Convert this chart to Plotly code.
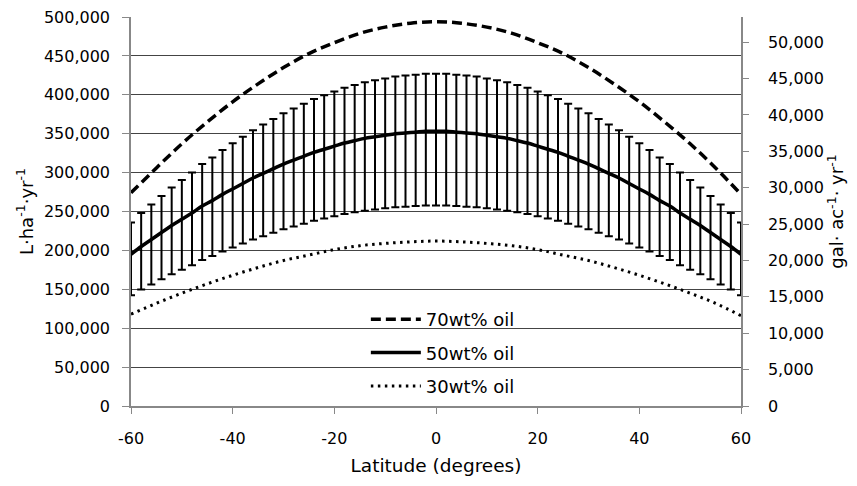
import plotly.graph_objects as go

# ---- data ----
lat_50 = list(range(-60, 61, 2))
half_50 = [195, 205, 214, 223, 232, 240, 248, 257, 264, 272, 279, 286, 293, 299, 305,
           311, 316, 321, 326, 330, 334, 338, 341, 344, 346, 348, 350, 351, 352, 353, 353]
oil50 = [v * 1000 for v in half_50[:-1] + half_50[::-1]]

lat_5 = list(range(-60, 61, 5))
oil70_k = [274, 306, 337, 365, 391, 414, 435, 453, 467, 479, 487, 492, 494,
           492, 487, 479, 467, 453, 435, 414, 391, 365, 337, 306, 272]
oil30_k = [118, 132, 145, 157, 168, 178, 187, 194, 201, 206, 209, 211, 212,
           211, 209, 206, 201, 194, 187, 178, 168, 157, 145, 132, 116]
oil70 = [v * 1000 for v in oil70_k]
oil30 = [v * 1000 for v in oil30_k]

err_plus_pct = 21
err_minus_pct = 27

x_ticks = [-60, -40, -20, 0, 20, 40, 60]
x_tick_labels = ["-60", "-40", "-20", "0", "20", "40", "60"]

L_HA_TO_GAL_AC = 0.10691
y_max = 500000

font = "DejaVu Sans"

fig = go.Figure()
fig.add_trace(go.Scatter(
    x=lat_5, y=oil70, mode="lines", name="70wt% oil", legendgroup="a",
    line=dict(color="black", width=3.5, dash="10px,5px", shape="spline")))
fig.add_trace(go.Scatter(
    x=lat_50, y=oil50, mode="lines", name="50wt% oil", legendgroup="b",
    line=dict(color="black", width=3.5, shape="spline"),
    error_y=dict(type="percent", value=err_plus_pct, valueminus=err_minus_pct,
                 symmetric=False, color="black", thickness=2, width=4)))
fig.add_trace(go.Scatter(
    x=lat_5, y=oil30, mode="lines", name="30wt% oil", legendgroup="c",
    line=dict(color="black", width=3, dash="2.5px,4.5px", shape="spline")))
# invisible trace to carry the secondary (gal/ac) axis
fig.add_trace(go.Scatter(
    x=lat_50, y=[v * L_HA_TO_GAL_AC for v in oil50], yaxis="y2", mode="lines",
    line=dict(color="rgba(0,0,0,0)"), showlegend=False, hoverinfo="skip"))

fig.update_layout(
    width=857, height=486,
    margin=dict(l=131, r=116, t=17, b=80, autoexpand=False),
    plot_bgcolor="white", paper_bgcolor="white",
    font=dict(family=font, size=16, color="black"),
    showlegend=True,
    legend=dict(x=0.385, y=0.27, xanchor="left", yanchor="top", itemwidth=50,
                bgcolor="rgba(0,0,0,0)", font=dict(size=18), tracegroupgap=7),
    xaxis=dict(range=[-60, 60], tickvals=x_ticks, ticktext=x_tick_labels,
               showgrid=False, zeroline=False,
               showline=True, linecolor="#888", linewidth=1.5,
               ticks="outside", ticklen=6, tickcolor="#888", ticklabelstandoff=11,
               title=dict(text="Latitude (degrees)", font=dict(size=18.5), standoff=12)),
    yaxis=dict(range=[0, y_max], dtick=50000, tickformat=",", showgrid=True,
               gridcolor="#444", gridwidth=1, zeroline=False,
               showline=True, linecolor="#888", linewidth=1.5,
               ticks="outside", ticklen=7, tickcolor="#888", ticklabelstandoff=9,
               title=dict(text="L·ha<sup>-1</sup>·yr<sup>-1</sup>", font=dict(size=18), standoff=6)),
    yaxis2=dict(range=[0, y_max * L_HA_TO_GAL_AC], dtick=5000, tickformat=",",
                overlaying="y", side="right", showgrid=False, zeroline=False,
                showline=True, linecolor="#888", linewidth=1.5,
                ticks="outside", ticklen=6, tickcolor="#888", ticklabelstandoff=16,
                title=dict(text="gal· ac<sup>-1</sup>· yr<sup>-1</sup>", font=dict(size=18), standoff=6)),
)

fig.write_html("out.html")
